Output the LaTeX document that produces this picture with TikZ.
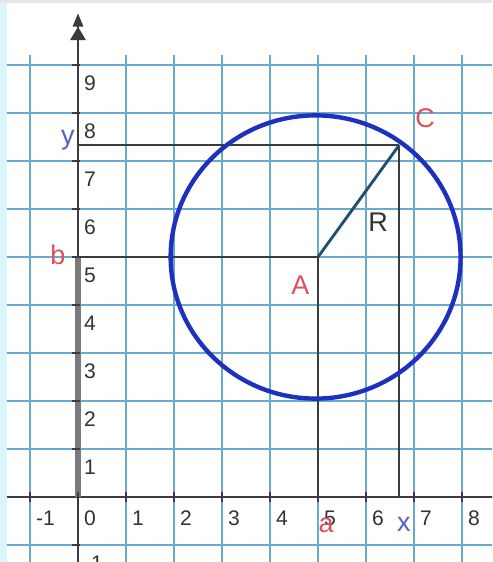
\documentclass[tikz,border=0pt]{standalone}
\usepackage{fontspec}
\setmainfont{Liberation Sans}
\usetikzlibrary{arrows.meta}
\definecolor{gridblue}{HTML}{66AACD}
\definecolor{axisgray}{HTML}{3C3C3C}
\definecolor{bargray}{HTML}{7A7A7A}
\definecolor{circblue}{HTML}{1E30BE}
\definecolor{radteal}{HTML}{1E5070}
\definecolor{lblred}{HTML}{E0505C}
\definecolor{lblblue}{HTML}{5662C4}
\definecolor{numgray}{HTML}{333333}
\definecolor{edgecyan}{HTML}{D8F6FC}
\definecolor{topgray}{HTML}{E6E6E6}
\tikzset{
  gridline/.style={draw=gridblue, line width=1.1pt},
  axis/.style={draw=axisgray, line width=1.5pt},
  bbar/.style={draw=bargray, line width=3.4pt},
  proj/.style={draw=axisgray, line width=1.3pt},
  tickmark/.style={draw=axisgray, line width=1.2pt},
  radius line/.style={draw=radteal, line width=1.7pt},
  num/.style={font=\fontsize{12.5}{14}\selectfont, text=numgray, inner sep=0pt, anchor=west},
  lbl/.style={font=\fontsize{16}{18}\selectfont, inner sep=0pt}
}
\begin{document}
\begin{tikzpicture}
  \useasboundingbox (-1.625,-1.354) rectangle (8.625,10.354);
  \clip (-1.625,-1.354) rectangle (8.625,10.354);
  \fill[white] (-1.625,-1.354) rectangle (8.625,10.354);
  \fill[edgecyan] (-1.625,-1.354) rectangle (-1.48,10.354);
  \fill[topgray] (-1.625,10.29) rectangle (8.625,10.354);
  \foreach \i in {-1,...,8} \draw[gridline] (\i,-1.4) -- (\i,9.2);
  \foreach \j in {-1,...,9} \draw[gridline] (-1.48,\j) -- (8.7,\j);
  \coordinate (O) at (0,0);
  \coordinate (A) at (5,5);
  \coordinate (C) at (6.69,7.33);
  \coordinate (Ax) at (5,0); \coordinate (Ay) at (0,5);
  \coordinate (Cx) at (6.69,0); \coordinate (Cy) at (0,7.33);
  \coordinate (xstart) at (-1.48,0); \coordinate (xend) at (8.7,0);
  \coordinate (ystart) at (0,-1.4); \coordinate (yend) at (0,10.08);
  \draw[axis] (xstart) -- (xend);
  \draw[axis, -{Triangle[length=8pt,width=9pt] Triangle[length=8pt,width=6pt]}] (ystart) -- (yend);
  \draw[bbar] (O) -- (Ay);
  \foreach \i in {-1,...,8} {
    \draw[tickmark] (\i,-0.1) -- (\i,0.1);
    \node[num] (nx\i) at (\i+0.12,-0.44) {\i};
  }
  \foreach \j in {-1,1,2,...,9} {
    \draw[tickmark] (-0.12,\j) -- (0.05,\j);
    \node[num] (ny\j) at (0.12,\j-0.38) {\j};
  }
  \draw[proj] (A) -- (Ay); \draw[proj] (A) -- (Ax);
  \draw[proj] (C) -- (Cy); \draw[proj] (C) -- (Cx);
  \draw[radius line] (A) -- (C);
  \draw[circblue, line width=2.6pt] (4.95,5) ellipse [x radius=3.02, y radius=2.95];
  \node[lbl, text=lblred] (labA) at (4.63,4.42) {A};
  \node[lbl, text=lblred] (labC) at (7.23,7.9) {C};
  \node[lbl, text=numgray] (labR) at (6.25,5.73) {R};
  \node[lbl, text=lblred] (labb) at (-0.42,5.04) {b};
  \node[lbl, text=lblblue] (laby) at (-0.21,7.44) {y};
  \node[lbl, text=lblred] (laba) at (5.17,-0.6) {a};
  \node[lbl, text=lblblue] (labx) at (6.79,-0.58) {x};
\end{tikzpicture}
\end{document}
